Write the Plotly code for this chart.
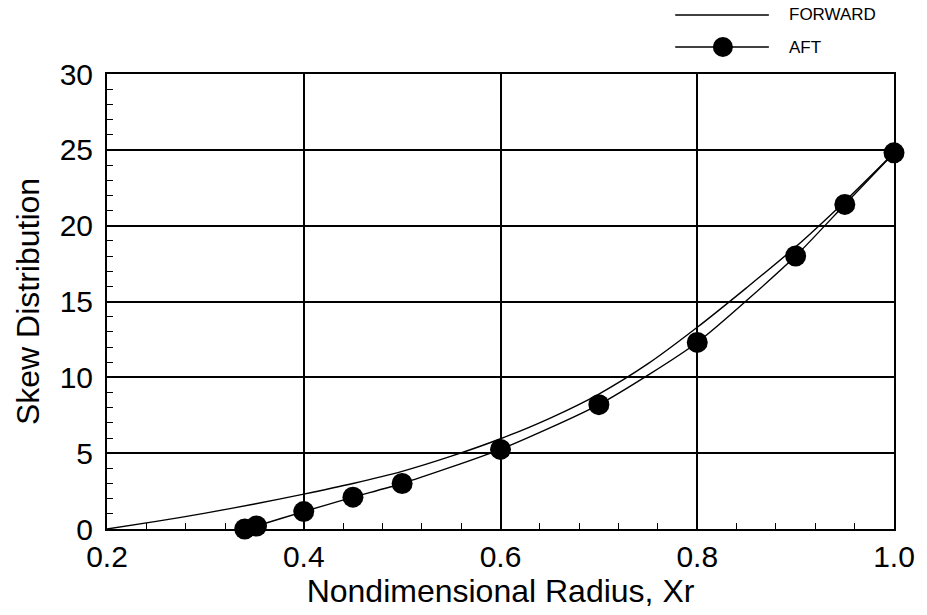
import plotly.graph_objects as go

# ---- data ----
forward_x = [0.20, 0.25, 0.30, 0.35, 0.40, 0.45, 0.50, 0.55, 0.60, 0.65,
             0.70, 0.75, 0.80, 0.85, 0.90, 0.95, 1.00]
forward_y = [0.0, 0.5, 1.05, 1.65, 2.3, 3.0, 3.8, 4.8, 5.95, 7.3,
             8.9, 10.9, 13.3, 15.9, 18.6, 21.6, 24.8]

aft_x = [0.34, 0.352, 0.40, 0.45, 0.50, 0.60, 0.70, 0.80, 0.90, 0.95, 1.00]
aft_y = [0.0, 0.2, 1.15, 2.1, 3.0, 5.25, 8.2, 12.3, 18.0, 21.4, 24.8]

x_ticks = [0.2, 0.4, 0.6, 0.8, 1.0]
x_tick_labels = ["0.2", "0.4", "0.6", "0.8", "1.0"]
y_ticks = [0, 5, 10, 15, 20, 25, 30]

series_names = ["FORWARD", "AFT"]

FONT = "Liberation Sans, Arial, Helvetica, sans-serif"

fig = go.Figure()
fig.add_trace(go.Scatter(
    x=forward_x, y=forward_y, mode="lines", name=series_names[0],
    line=dict(color="black", width=1.4, shape="spline", smoothing=0.8),
    showlegend=False, cliponaxis=False,
))
fig.add_trace(go.Scatter(
    x=aft_x, y=aft_y, mode="lines+markers", name=series_names[1],
    line=dict(color="black", width=1.4, shape="spline", smoothing=0.6),
    marker=dict(color="black", size=21, symbol="circle"),
    showlegend=False, cliponaxis=False,
))

# ---- custom legend (drawn in paper space) ----
legend_shapes = [
    dict(type="line", xref="paper", yref="paper", x0=0.722, x1=0.841,
         y0=1.1297, y1=1.1297, line=dict(color="black", width=1.4)),
    dict(type="line", xref="paper", yref="paper", x0=0.722, x1=0.841,
         y0=1.0593, y1=1.0593, line=dict(color="black", width=1.4)),
    dict(type="circle", xref="paper", yref="paper", xsizemode="pixel",
         ysizemode="pixel", xanchor=0.7826, yanchor=1.0593,
         x0=-10, x1=10, y0=-10, y1=10, fillcolor="black",
         line=dict(color="black", width=0)),
]
legend_annots = [
    dict(text=series_names[0], xref="paper", yref="paper", x=0.8635, y=1.1297,
         xanchor="left", yanchor="middle", showarrow=False,
         font=dict(family=FONT, size=17, color="black")),
    dict(text=series_names[1], xref="paper", yref="paper", x=0.8635, y=1.0593,
         xanchor="left", yanchor="middle", showarrow=False,
         font=dict(family=FONT, size=17, color="black")),
]

fig.update_layout(
    width=927, height=615,
    margin=dict(l=107, r=29, t=74, b=86),
    paper_bgcolor="white", plot_bgcolor="white",
    font=dict(family=FONT, color="black"),
    shapes=legend_shapes, annotations=legend_annots,
    showlegend=False,
)

fig.update_xaxes(
    range=[0.2, 1.0], tickmode="array", tickvals=x_ticks, ticktext=x_tick_labels,
    showgrid=True, gridcolor="black", gridwidth=1.5,
    showline=True, linecolor="black", linewidth=2, mirror=True,
    ticks="inside", ticklen=0, tickcolor="black",
    minor=dict(dtick=0.04, tick0=0.2, ticks="inside", ticklen=6,
               tickcolor="black", tickwidth=1.3, showgrid=False),
    tickfont=dict(family=FONT, size=30, color="black"),
    ticklabelstandoff=0,
    title=dict(text="Nondimensional Radius, Xr",
               font=dict(family=FONT, size=32, color="black"), standoff=6),
    zeroline=False,
)
fig.update_yaxes(
    range=[0, 30], tickmode="array", tickvals=y_ticks,
    showgrid=True, gridcolor="black", gridwidth=1.5,
    showline=True, linecolor="black", linewidth=2, mirror=True,
    ticks="inside", ticklen=0, tickcolor="black",
    minor=dict(dtick=1, tick0=0, ticks="inside", ticklen=6,
               tickcolor="black", tickwidth=1.3, showgrid=False),
    tickfont=dict(family=FONT, size=30, color="black"),
    ticklabelstandoff=6,
    title=dict(text="Skew Distribution",
               font=dict(family=FONT, size=32, color="black"), standoff=10),
    zeroline=False,
)

fig.write_html("out.html")
